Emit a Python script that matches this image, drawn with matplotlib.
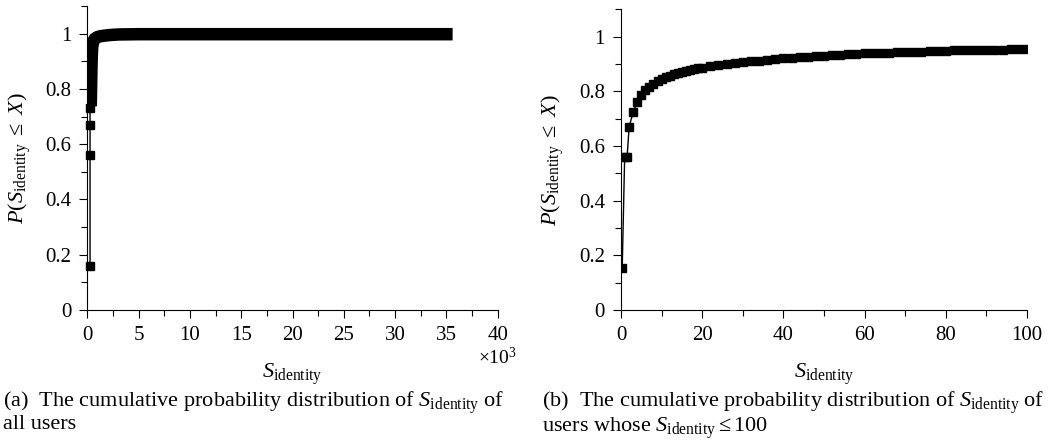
import matplotlib
matplotlib.use("Agg")
import matplotlib.pyplot as plt
from matplotlib.ticker import MultipleLocator
import numpy as np

plt.rcParams["font.family"] = "Liberation Serif"
plt.rcParams["mathtext.fontset"] = "custom"
plt.rcParams["mathtext.rm"] = "Liberation Serif"
plt.rcParams["mathtext.it"] = "Liberation Serif:italic"

# ---- data: CDF of S_identity, all users (x in raw units) ----
all_x = [250, 250, 250, 250, 330, 360, 390, 420, 460, 520, 600, 700, 850,
         1000, 1300, 1700, 2200, 3000, 5000, 10000, 20000, 30000, 35000]
all_y = [0.16, 0.56, 0.67, 0.73, 0.76, 0.82, 0.88, 0.92, 0.95, 0.965, 0.975,
         0.981, 0.985, 0.988, 0.991, 0.993, 0.995, 0.997, 0.998, 0.998,
         0.998, 0.998, 0.998]

# ---- data: CDF of S_identity for users with S_identity <= 100 ----
sub_x = [0.3, 0.9, 1.5, 2, 3, 4, 5, 6, 7, 8, 9, 10, 11, 12, 13, 14, 15, 16,
         17, 18, 19, 20, 22, 24, 26, 28, 30, 32, 34, 36, 38, 40, 42, 44, 46,
         48, 50, 52, 54, 56, 58, 60, 62, 64, 66, 68, 70, 72, 74, 76, 78, 80,
         82, 84, 86, 88, 90, 92, 94, 96, 98, 100]
sub_y = [0.155, 0.56, 0.56, 0.67, 0.725, 0.762, 0.787, 0.805, 0.818, 0.828,
         0.837, 0.845, 0.851, 0.857, 0.862, 0.866, 0.870, 0.874, 0.878,
         0.881, 0.884, 0.887, 0.892, 0.897, 0.901, 0.904, 0.907, 0.910,
         0.913, 0.916, 0.918, 0.921, 0.923, 0.925, 0.927, 0.929, 0.931,
         0.933, 0.934, 0.936, 0.937, 0.939, 0.940, 0.941, 0.942, 0.943,
         0.944, 0.945, 0.946, 0.947, 0.948, 0.949, 0.950, 0.951, 0.951,
         0.952, 0.952, 0.953, 0.953, 0.954, 0.954, 0.955]

ylabel = r"$P(S_{\mathrm{identity}}\ \leq\ X)$"
xlabel = r"$S_{\mathrm{identity}}$"
cap_a = ("(a)  The cumulative probability distribution of $S_{\\mathrm{identity}}$ of\n"
         "all users")
cap_b = ("(b)  The cumulative probability distribution of $S_{\\mathrm{identity}}$ of\n"
         "users whose $S_{\\mathrm{identity}}\\leq 100$")

fig = plt.figure(figsize=(10.49, 4.42), dpi=100)
ax1 = fig.add_axes([0.0834, 0.2986, 0.391, 0.6878])
ax2 = fig.add_axes([0.592, 0.2986, 0.387, 0.680])


def style(ax):
    for s in ["top", "right"]:
        ax.spines[s].set_visible(False)
    ax.tick_params(which="both", direction="out", labelsize=15, width=0.8)
    ax.tick_params(which="major", length=5.5, pad=6)
    ax.tick_params(which="minor", length=4)
    ax.set_ylim(0, 1.1)
    ax.yaxis.set_minor_locator(MultipleLocator(0.1))
    ax.set_yticks([0, 0.2, 0.4, 0.6, 0.8, 1.0])
    ax.set_yticklabels(["0", "0.2", "0.4", "0.6", "0.8", "1"])
    ax.set_ylabel(ylabel, fontsize=16, labelpad=9)


# =================================================
# (a) all users
# =================================================
xa = np.array(all_x) / 1000.0
ya = np.array(all_y)
ax1.plot(xa, ya, color="black", lw=1)
ax1.plot(xa[:4], ya[:4], "s", color="black", ms=5.5, clip_on=False)
ax1.plot(xa[4:], ya[4:], color="black", lw=9, solid_capstyle="projecting",
         solid_joinstyle="miter")
ax1.set_xlim(0, 40)
ax1.xaxis.set_major_locator(MultipleLocator(5))
ax1.xaxis.set_minor_locator(MultipleLocator(2.5))
style(ax1)
ax1.set_xlabel(xlabel, fontsize=16, labelpad=12)
ax1.text(1.0, -0.122, r"$\times 10^3$", transform=ax1.transAxes,
         ha="center", va="top", fontsize=14)

# =================================================
# (b) users with S_identity <= 100
# =================================================
ax2.plot(sub_x, sub_y, "-s", color="black", lw=1, ms=5.5)
ax2.set_xlim(0, 100)
ax2.xaxis.set_major_locator(MultipleLocator(20))
ax2.xaxis.set_minor_locator(MultipleLocator(10))
style(ax2)
ax2.set_xlabel(xlabel, fontsize=16, labelpad=12)

# captions
cap = 16
fig.text(0.003, 0.118, cap_a, fontsize=cap, ha="left", va="top",
         linespacing=0.93)
fig.text(0.517, 0.118, cap_b, fontsize=cap, ha="left", va="top",
         linespacing=0.93)

fig.savefig("out.png", dpi=100)
